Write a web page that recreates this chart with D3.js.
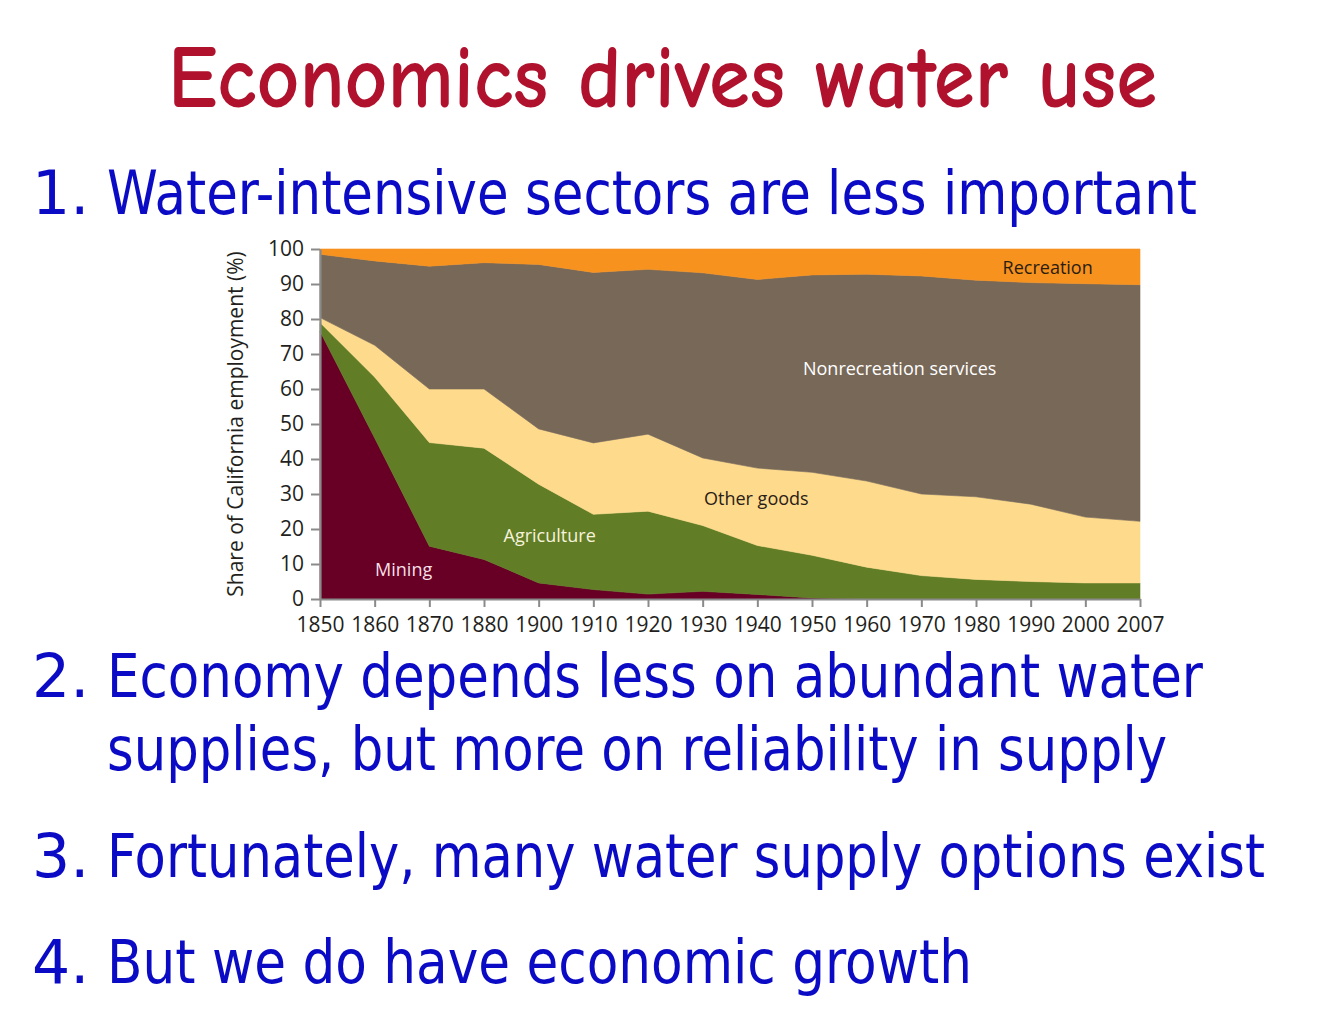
<!DOCTYPE html>
<html>
<head>
<meta charset="utf-8">
<script src="https://cdn.jsdelivr.net/npm/d3@7"></script>
<style>
  html, body { margin: 0; padding: 0; background: #ffffff; }
  svg { display: block; }
</style>
</head>
<body>
<svg id="chart" width="1323" height="1014"></svg>
<script>
// ---------------- DATA ----------------
const years = ["1850","1860","1870","1880","1900","1910","1920","1930","1940","1950","1960","1970","1980","1990","2000","2007"];
const mining       = [76.5, 46.0, 15.1, 11.3, 4.6, 2.7, 1.4, 2.2, 1.3, 0.3, 0, 0, 0, 0, 0, 0];
const agriculture  = [2.5, 17.4, 29.6, 31.8, 28.2, 21.5, 23.7, 18.8, 14.0, 12.2, 9.1, 6.7, 5.6, 5.0, 4.6, 4.6];
const otherGoods   = [1.4, 9.1, 15.3, 16.9, 15.8, 20.4, 22.0, 19.3, 22.1, 23.7, 24.6, 23.3, 23.6, 22.1, 18.8, 17.6];
const nonrecServ   = [18.1, 24.1, 35.1, 36.1, 47.0, 48.7, 47.1, 52.9, 53.9, 56.4, 59.1, 62.3, 61.9, 63.3, 66.7, 67.6];
const recreation   = [1.5, 3.4, 4.9, 3.9, 4.4, 6.7, 5.8, 6.8, 8.7, 7.4, 7.2, 7.7, 8.9, 9.6, 9.9, 10.2];
const seriesNames  = ["Mining","Agriculture","Other goods","Nonrecreation services","Recreation"];
const yTicks       = [0,10,20,30,40,50,60,70,80,90,100];
const titleText    = "Economics drives water use";
const bulletNums   = ["1.","2.","","3.","4."];
const bulletLines  = ["Water-intensive sectors are less important",
                      "Economy depends less on abundant water",
                      "supplies, but more on reliability in supply",
                      "Fortunately, many water supply options exist",
                      "But we do have economic growth"];
const yLabel       = "Share of California employment (%)";

// ---------------- STYLE ----------------
const colors = {
  "Mining": "#670024",
  "Agriculture": "#617e26",
  "Other goods": "#fedb8c",
  "Nonrecreation services": "#786858",
  "Recreation": "#f7921f"
};
const labelStyle = {
  "Mining": {fill: "#f6dfe6"},
  "Agriculture": {fill: "#f7f2dc"},
  "Other goods": {fill: "#2a2017"},
  "Nonrecreation services": {fill: "#ffffff"},
  "Recreation": {fill: "#2a1d10"}
};
const svg = d3.select("#chart");
const W = 1323, H = 1014;
svg.append("rect").attr("width", W).attr("height", H).attr("fill", "#fff");

// Title
const textFont = "Tahoma, 'DejaVu Sans', Verdana, sans-serif";
svg.append("text")
  .attr("x", 168).attr("y", 107)
  .attr("textLength", 989).attr("lengthAdjust", "spacingAndGlyphs")
  .attr("font-family", "'Comic Sans MS', 'Comic Neue', 'DejaVu Sans', sans-serif")
  .attr("font-size", 88)
  .attr("font-weight", "bold")
  .attr("fill", "#b0122d")
  .text(titleText);

// Bullets
const bulletLayout = [
  {y: 214, x1: 32, x2: 107, right: 1197},
  {y: 697, x1: 32, x2: 107, right: 1203},
  {y: 770, x1: 32, x2: 107, right: 1167},
  {y: 877, x1: 32, x2: 107, right: 1265},
  {y: 983, x1: 32, x2: 107, right: 972}
];
bulletLines.forEach((line, i) => {
  const L = bulletLayout[i];
  if (bulletNums[i]) {
    svg.append("text")
      .attr("x", L.x1).attr("y", L.y)
      .attr("font-family", textFont).attr("font-size", 60)
      .attr("fill", "#0b0bc5")
      .text(bulletNums[i]);
  }
  svg.append("text")
    .attr("x", L.x2).attr("y", L.y)
    .attr("textLength", L.right - L.x2).attr("lengthAdjust", "spacingAndGlyphs")
    .attr("font-family", textFont).attr("font-size", 60)
    .attr("fill", "#0b0bc5")
    .text(line);
});

// ---------------- CHART ----------------
const plot = {left: 320, right: 1140, top: 249, bottom: 599};
const x = d3.scalePoint().domain(years).range([plot.left, plot.right]);
const y = d3.scaleLinear().domain([0, 100]).range([plot.bottom, plot.top]);

const rows = years.map((yr, i) => ({
  year: yr,
  "Mining": mining[i],
  "Agriculture": agriculture[i],
  "Other goods": otherGoods[i],
  "Nonrecreation services": nonrecServ[i],
  "Recreation": recreation[i]
}));
const stacked = d3.stack().keys(seriesNames)(rows);
const area = d3.area()
  .x(d => x(d.data.year))
  .y0(d => y(d[0]))
  .y1(d => y(d[1]))
  .curve(d3.curveLinear);

svg.append("g").selectAll("path")
  .data(stacked)
  .join("path")
  .attr("d", area)
  .attr("fill", d => colors[d.key])
  .attr("stroke", d => colors[d.key])
  .attr("stroke-width", 0.6);

const chartFont = "'Myriad Pro', 'Open Sans', Lato, sans-serif";

// Y axis
const yAxis = svg.append("g")
  .attr("transform", `translate(${plot.left},0)`)
  .call(d3.axisLeft(y).tickValues(yTicks).tickSize(9).tickPadding(7).tickSizeOuter(0));
yAxis.select(".domain").attr("stroke", "#8a8a8a").attr("stroke-width", 2.2);
yAxis.selectAll(".tick line").attr("stroke", "#8a8a8a").attr("stroke-width", 2);
yAxis.selectAll(".tick text")
  .attr("font-family", chartFont).attr("font-size", 21).attr("fill", "#231f20");

// X axis
const xAxis = svg.append("g")
  .attr("transform", `translate(0,${plot.bottom})`)
  .call(d3.axisBottom(x).tickSize(8).tickPadding(10).tickSizeOuter(0));
xAxis.select(".domain").attr("stroke", "#8a8a8a").attr("stroke-width", 2.2);
xAxis.selectAll(".tick line").attr("stroke", "#8a8a8a").attr("stroke-width", 2);
xAxis.selectAll(".tick text")
  .attr("font-family", chartFont).attr("font-size", 21).attr("fill", "#231f20")
  .attr("textLength", 48).attr("lengthAdjust", "spacingAndGlyphs");

// Y label
svg.append("text")
  .attr("transform", `translate(243,424) rotate(-90)`)
  .attr("text-anchor", "middle")
  .attr("font-family", chartFont).attr("font-size", 21)
  .attr("fill", "#231f20")
  .text(yLabel);

// Series labels (positioned in data space)
const seriesLabelPos = {
  "Mining": {year: "1860", dx: 29, v: 6.6},
  "Agriculture": {year: "1900", dx: 11, v: 16.3},
  "Other goods": {year: "1940", dx: -1, v: 27},
  "Nonrecreation services": {year: "1960", dx: 33, v: 64},
  "Recreation": {year: "1990", dx: 17, v: 93}
};
seriesNames.forEach(name => {
  const p = seriesLabelPos[name];
  svg.append("text")
    .attr("x", x(p.year) + p.dx)
    .attr("y", y(p.v))
    .attr("text-anchor", "middle")
    .attr("font-family", chartFont).attr("font-size", 18)
    .attr("fill", labelStyle[name].fill)
    .text(name);
});
</script>
</body>
</html>
